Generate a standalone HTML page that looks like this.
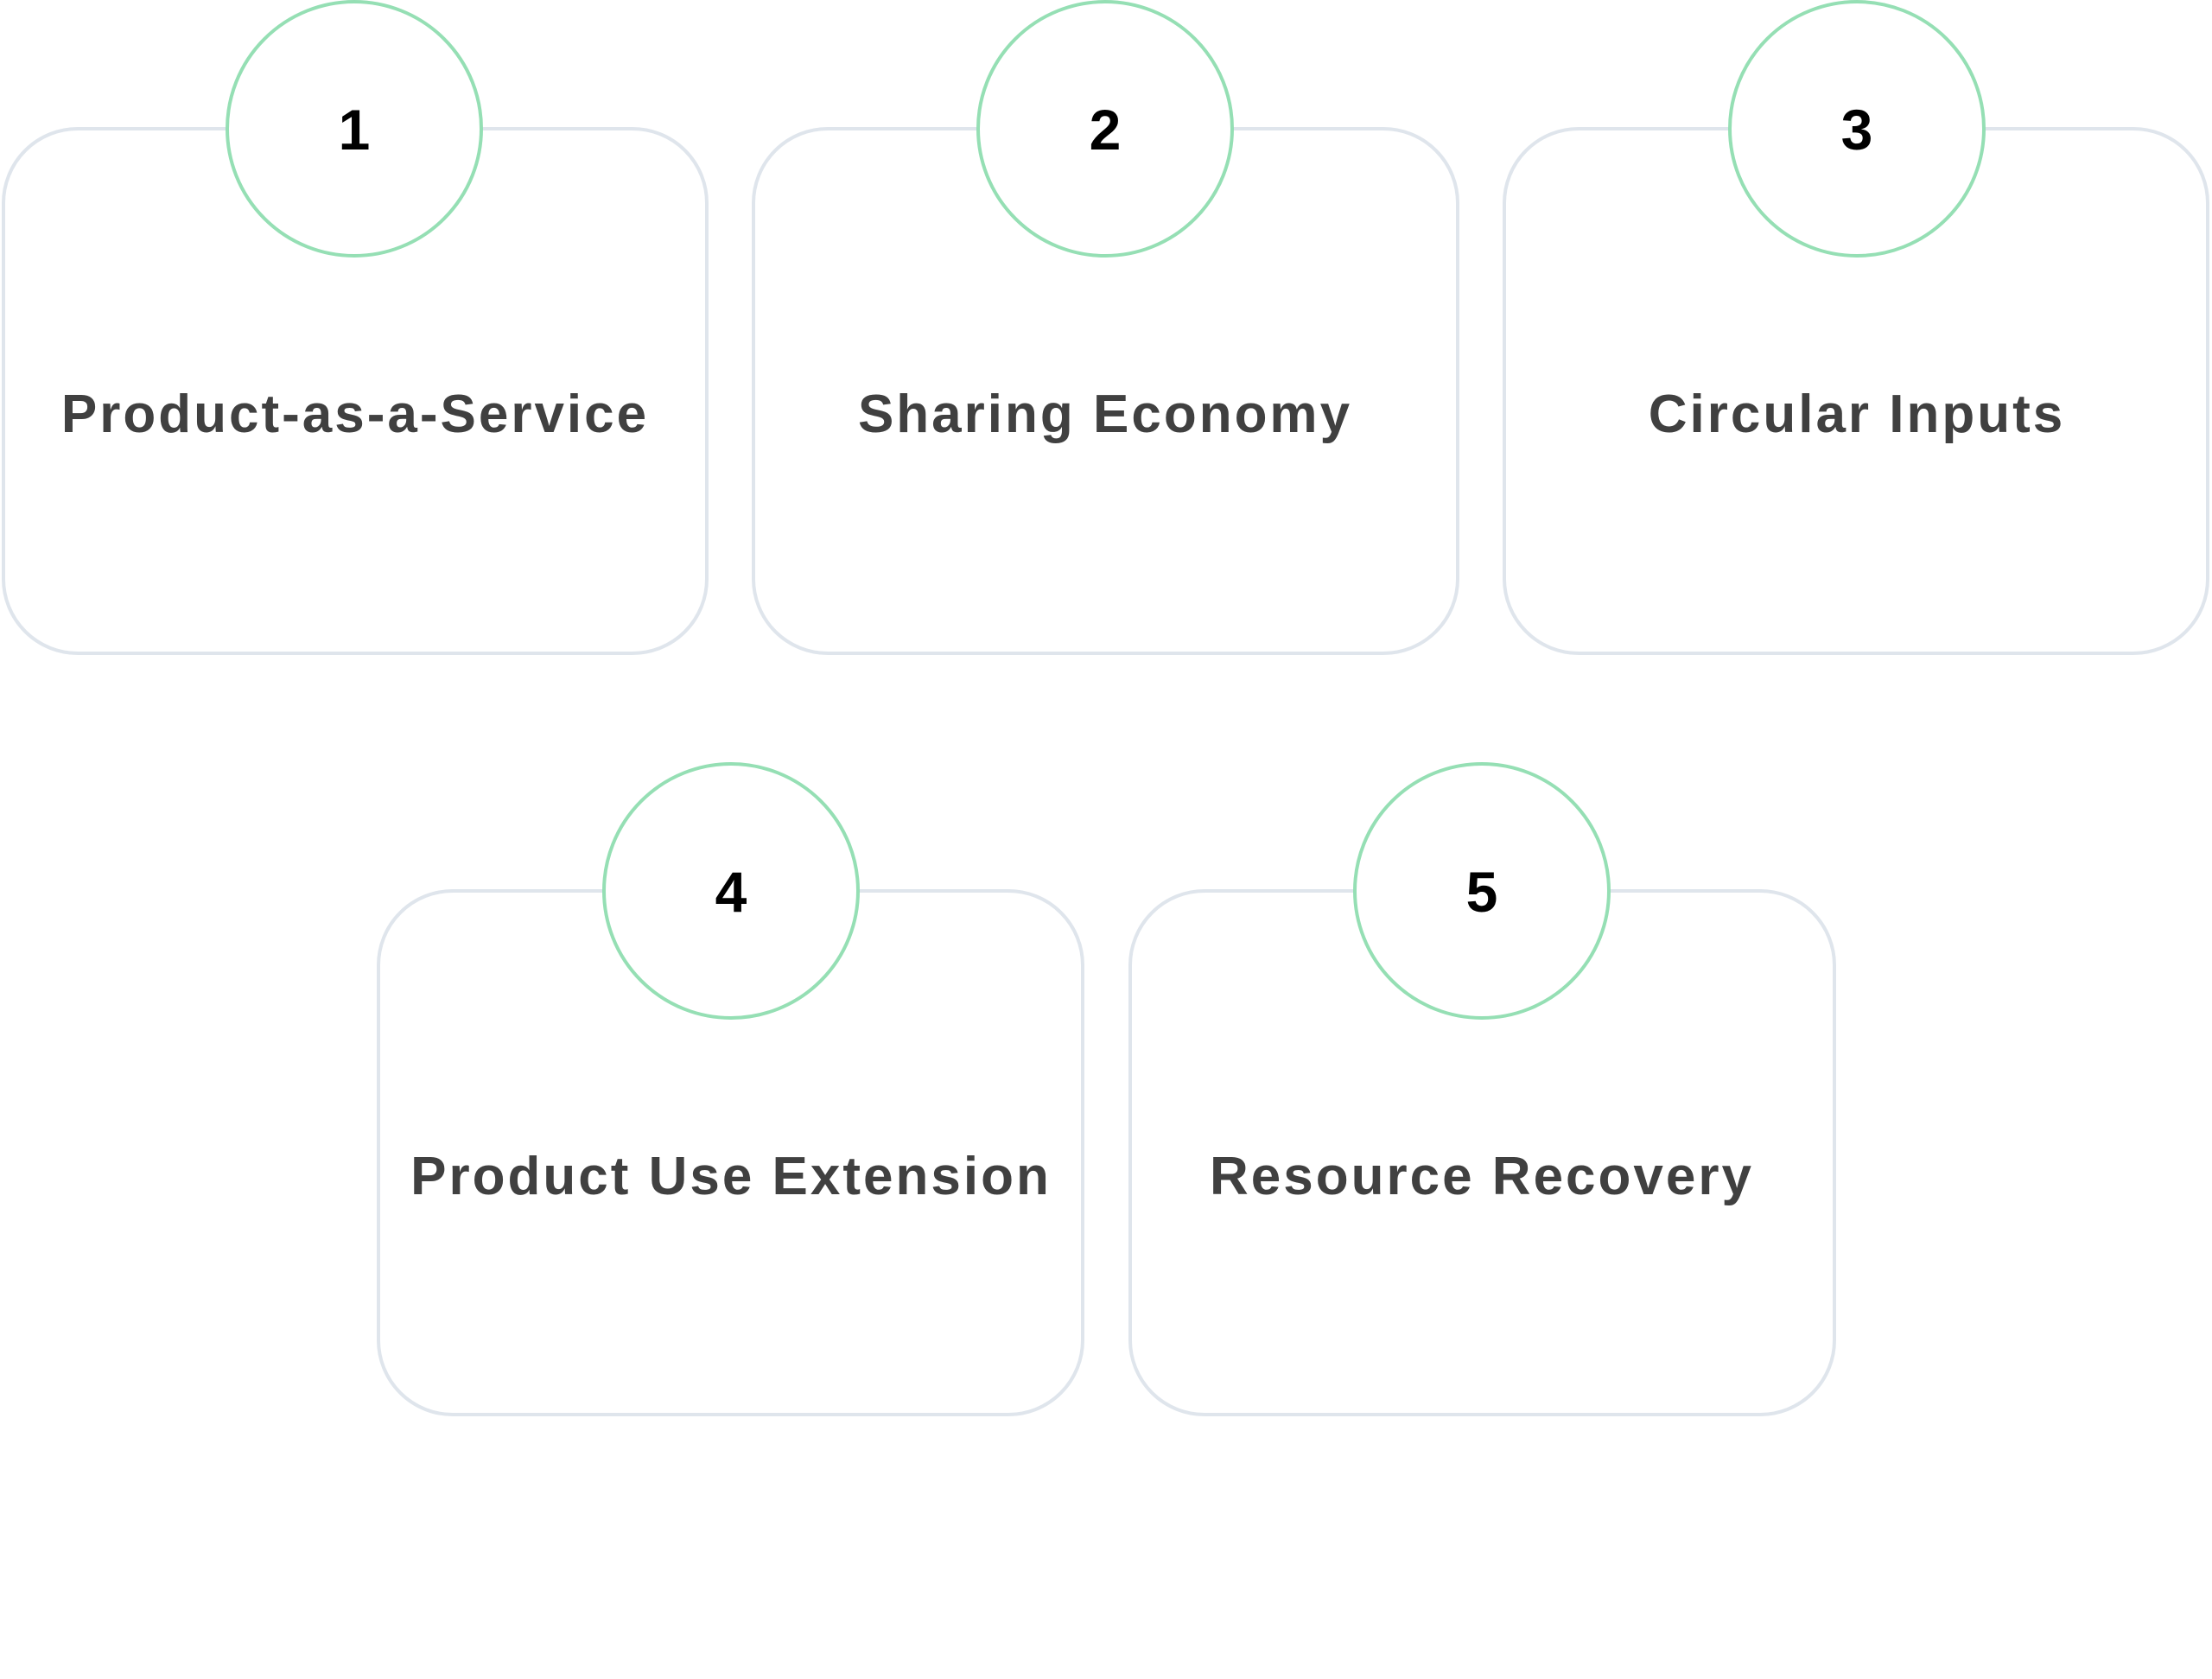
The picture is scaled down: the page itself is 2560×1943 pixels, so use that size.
<!DOCTYPE html>
<html><head><meta charset="utf-8"><style>
html,body{margin:0;padding:0;background:#fff;}
svg{display:block;}
.lbl{font-family:"Liberation Sans",sans-serif;font-weight:bold;font-size:62px;fill:#404040;letter-spacing:3px;}
.num{font-family:"Liberation Sans",sans-serif;font-weight:bold;font-size:66px;fill:#000;}
</style></head><body>
<svg width="2560" height="1943" viewBox="0 0 2560 1943" xmlns="http://www.w3.org/2000/svg">
<g fill="none" stroke="#dfe5ec" stroke-width="4">
<rect x="4" y="149" width="814" height="607" rx="86"/>
<rect x="872" y="149" width="815" height="607" rx="86"/>
<rect x="1741" y="149" width="814" height="607" rx="86"/>
<rect x="438" y="1031" width="815" height="606" rx="86"/>
<rect x="1308" y="1031" width="815" height="606" rx="86"/>
</g>
<g fill="#fff" stroke="#95dfb4" stroke-width="4">
<circle cx="410" cy="149" r="147"/>
<circle cx="1279" cy="149" r="147"/>
<circle cx="2149" cy="149" r="147"/>
<circle cx="846" cy="1031" r="147"/>
<circle cx="1715" cy="1031" r="147"/>
</g>
<g class="num" text-anchor="middle">
<text x="410" y="173">1</text>
<text x="1279" y="173">2</text>
<text x="2149" y="173">3</text>
<text x="846" y="1055">4</text>
<text x="1715" y="1055">5</text>
</g>
<g class="lbl" text-anchor="middle">
<text x="411" y="500">Product-as-a-Service</text>
<text x="1279" y="500">Sharing Economy</text>
<text x="2149" y="500">Circular Inputs</text>
<text x="846" y="1382">Product Use Extension</text>
<text x="1715" y="1382">Resource Recovery</text>
</g>
</svg>
</body></html>
